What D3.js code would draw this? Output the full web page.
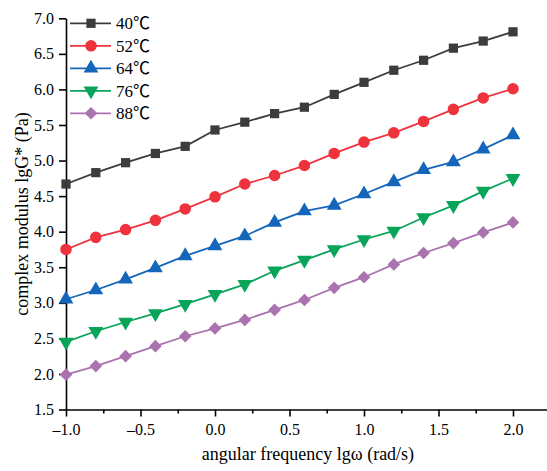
<!DOCTYPE html>
<html><head><meta charset="utf-8">
<script src="https://cdn.jsdelivr.net/npm/d3@7"></script>
<style>
html,body{margin:0;padding:0;background:#fff;}
svg{display:block;}
text{font-family:"Liberation Serif","Times New Roman",serif;fill:#000;}
</style></head>
<body>
<svg id="chart" width="547" height="471"></svg>
<script>
const xValues = [-1.0,-0.8,-0.6,-0.4,-0.2,0.0,0.2,0.4,0.6,0.8,1.0,1.2,1.4,1.6,1.8,2.0];
const seriesNames = ["40℃","52℃","64℃","76℃","88℃"];
const s40 = [4.67,4.83,4.97,5.10,5.20,5.43,5.54,5.66,5.75,5.93,6.10,6.27,6.41,6.58,6.68,6.81];
const s52 = [3.75,3.92,4.03,4.16,4.32,4.49,4.67,4.79,4.93,5.10,5.26,5.39,5.55,5.72,5.88,6.01];
const s64 = [3.05,3.18,3.33,3.49,3.66,3.80,3.94,4.13,4.29,4.37,4.53,4.70,4.87,4.98,5.16,5.36];
const s76 = [2.45,2.60,2.73,2.85,2.98,3.12,3.26,3.45,3.60,3.75,3.89,4.01,4.20,4.37,4.57,4.75];
const s88 = [1.99,2.11,2.25,2.39,2.53,2.64,2.76,2.90,3.04,3.21,3.36,3.54,3.70,3.84,3.99,4.13];
const xMajorTicks = [-1.0,-0.5,0.0,0.5,1.0,1.5,2.0];
const xMinorTicks = [-0.75,-0.25,0.25,0.75,1.25,1.75,2.25];
const yTicks = [1.5,2.0,2.5,3.0,3.5,4.0,4.5,5.0,5.5,6.0,6.5,7.0];
const xTitle = "angular frequency lgω (rad/s)";
const yTitle = "complex modulus lgG* (Pa)";

const colors = ["#3c3c3c","#ee333d","#1466bb","#07a45a","#ab72b0"];
const symbols = ["square","circle","triangle","triangleDown","diamond"];
const allSeries = [s40,s52,s64,s76,s88];

const FONT = "'Liberation Serif', 'Times New Roman', serif";
const svg = d3.select("#chart");
const x = d3.scaleLinear().domain([-1, 2.25]).range([66, 550.25]);
const y = d3.scaleLinear().domain([1.5, 7.0]).range([409.5, 18.3]);

const fmt = v => (v < 0 ? "\u2013" + Math.abs(v).toFixed(1) : v.toFixed(1));

// axes
const xAxis = svg.append("g").attr("transform", `translate(0,${y(1.5)})`)
  .call(d3.axisBottom(x).tickValues(xMajorTicks).tickFormat(fmt).tickSizeOuter(0).tickSizeInner(7).tickPadding(5));
const xMinor = svg.append("g").attr("transform", `translate(0,${y(1.5)})`)
  .call(d3.axisBottom(x).tickValues(xMinorTicks).tickFormat("").tickSizeOuter(0).tickSizeInner(4));
xMinor.select(".domain").remove();
const yAxis = svg.append("g").attr("transform", `translate(${x(-1)},0)`)
  .call(d3.axisLeft(y).tickValues(yTicks).tickFormat(d => d.toFixed(1)).tickSizeOuter(0).tickSizeInner(7).tickPadding(5));
[xAxis, xMinor, yAxis].forEach(g => {
  g.attr("font-family", null).style("font-family", FONT);
  g.selectAll("path, line").attr("stroke", "#000").attr("stroke-width", 1.6);
  g.selectAll("text").attr("font-size", 16).style("font-family", FONT).attr("fill", "#000");
});
xAxis.selectAll("text").attr("dy", "0.85em");

// titles
svg.append("text").attr("x", 308).attr("y", 460).attr("text-anchor", "middle")
  .attr("font-size", 18).style("font-family", FONT).text(xTitle);
svg.append("text").attr("transform", `translate(28,${(y(1.5)+y(7))/2}) rotate(-90)`)
  .attr("text-anchor", "middle").attr("font-size", 18).style("font-family", FONT).text(yTitle);

function sym(name) {
  const map = {square: d3.symbolSquare, circle: d3.symbolCircle, triangle: d3.symbolTriangle,
               triangleDown: d3.symbolTriangle, diamond: d3.symbolSquare};
  const size = {square: 85, circle: 105, triangle: 95, triangleDown: 95, diamond: 80}[name];
  return d3.symbol().type(map[name]).size(size)();
}
function rot(name) {
  if (name === "triangleDown") return " rotate(180)";
  if (name === "diamond") return " rotate(45)";
  return "";
}

const line = d3.line().x((d, i) => x(xValues[i])).y(d => y(d));
allSeries.forEach((vals, k) => {
  const g = svg.append("g");
  g.append("path").attr("d", line(vals)).attr("fill", "none")
    .attr("stroke", colors[k]).attr("stroke-width", 1.8);
  g.selectAll("path.m").data(vals).join("path").attr("class", "m")
    .attr("d", sym(symbols[k]))
    .attr("transform", (d, i) => `translate(${x(xValues[i])},${y(d)})` + rot(symbols[k]))
    .attr("fill", colors[k]);
});

// legend
const legend = svg.append("g");
seriesNames.forEach((nm, k) => {
  const cy = 23.3 + k * 22.5;
  legend.append("line").attr("x1", 70).attr("x2", 111).attr("y1", cy).attr("y2", cy)
    .attr("stroke", colors[k]).attr("stroke-width", 1.8);
  legend.append("path").attr("d", sym(symbols[k]))
    .attr("transform", `translate(91,${cy})` + rot(symbols[k])).attr("fill", colors[k]);
  legend.append("text").attr("x", 116).attr("y", cy).attr("dy", "0.36em")
    .attr("font-size", 17).style("font-family", "'Liberation Serif', 'Noto Sans CJK SC', serif").text(nm);
});
</script>
</body></html>
